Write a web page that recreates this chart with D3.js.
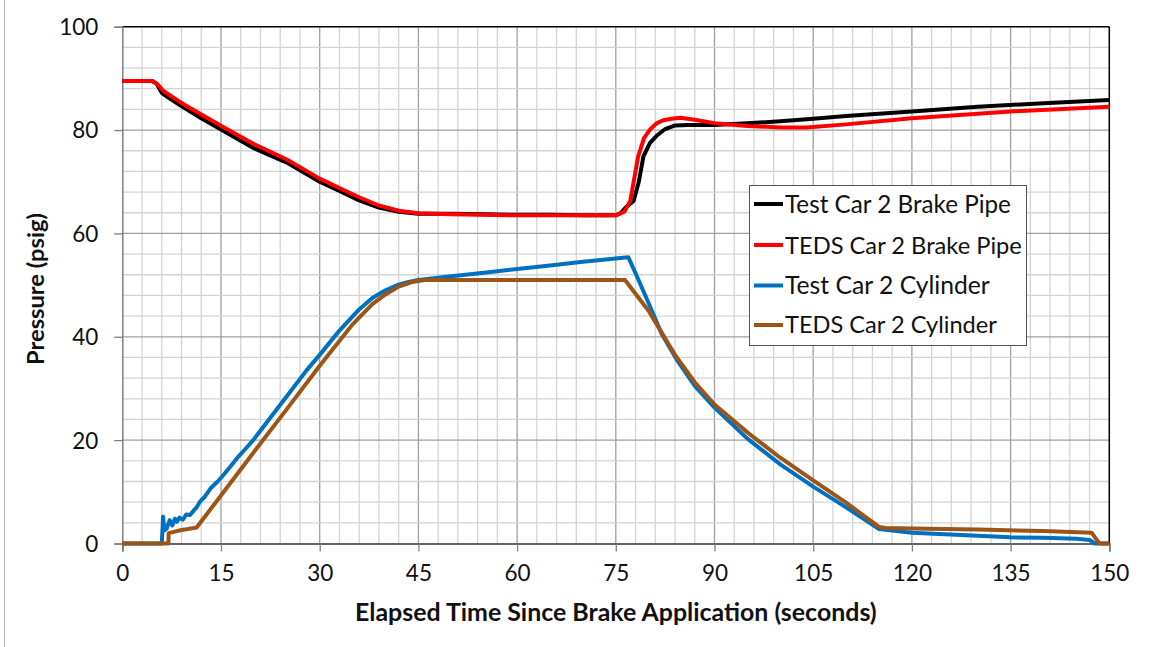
<!DOCTYPE html>
<html><head><meta charset="utf-8">
<script src="https://cdn.jsdelivr.net/npm/d3@7"></script>
<style>body{margin:0;background:#fff;font-family:Lato,"Open Sans",sans-serif;}</style>
</head><body><svg id="c" width="1151" height="647"></svg>
<script>
// ---- data ----
const seriesNames = ["Test Car 2 Brake Pipe","TEDS Car 2 Brake Pipe","Test Car 2 Cylinder","TEDS Car 2 Cylinder"];
const seriesColors = ["#000000","#ff0000","#0070c0","#9c5516"];
const xTicks = [0,15,30,45,60,75,90,105,120,135,150];
const yTicks = [0,20,40,60,80,100];

const testPipeT = [0,4.5,5.2,6,7,8.8,12,16,20,25,30,33,36,39,42,45,50,55,60,65,70,75,75.8,76.5,77.7,78.5,79.2,80.2,81.3,82.5,84,86,90,95,100,105,110,120,130,140,150];
const testPipeP = [89.5,89.5,89.0,87.2,86.3,84.8,82.3,79.4,76.5,73.7,70.0,68.2,66.4,65.0,64.2,63.8,63.8,63.7,63.6,63.6,63.5,63.5,64,65,66.3,70,74.9,77.5,79,80.2,80.9,81,81,81.3,81.7,82.2,82.7,83.6,84.5,85.2,85.8];

const tedsPipeT = [0,4.6,5.4,6.2,8.8,12,16,20,25,30,33,36,39,42,45,50,60,70,75,76.3,77.2,78.4,79.3,80.2,81.2,82.2,83.5,84.8,87,90,95,100,104,110,120,135,150];
const tedsPipeP = [89.5,89.5,88.8,87.6,85.4,83.0,80.1,77.3,74.3,70.6,68.8,67.0,65.4,64.4,63.9,63.7,63.5,63.5,63.5,64.2,66.3,74.9,78.5,80.1,81.3,81.9,82.2,82.4,82.0,81.3,80.8,80.5,80.5,81.1,82.3,83.6,84.5];

const testCylT = [0,6.0,6.2,6.4,6.75,7.2,7.6,8.0,8.3,8.7,9.2,9.7,10.3,10.8,11.3,11.8,12.5,13.5,14.5,15.4,16.5,17.5,18.5,19.9,22,25,28,30,33,36,38,40,42,43.5,45,50,55,60,65,70,76.9,78,80,82,84.3,87,90,95,100,105,110,115,117,120,125,130,135,140,145,147,147.8,150];
const testCylP = [0,0,5.2,2.5,2.9,4.5,3.5,4.8,4.2,5.0,4.6,5.6,5.5,6.3,7.0,8.1,9.0,10.8,12.0,13.3,15.0,16.6,18.0,20.0,23.5,28.5,33.5,36.5,41.2,45.3,47.5,49.0,50.1,50.6,51.0,51.7,52.4,53.1,53.8,54.5,55.4,52.3,46.5,40.5,35.5,30.5,26.3,20.3,15.3,11.0,7.0,2.8,2.5,2.1,1.8,1.5,1.2,1.1,0.9,0.7,0,0];

const tedsCylT = [0,7.0,7.05,8,9,10,11.3,15,20,25,30,35,38,40,42,44,46,47,60,76.4,80,84,87,90,95,100,105,110,115,116,120,130,140,147.3,148.5,150];
const tedsCylP = [0,0,2.0,2.3,2.6,2.8,3.1,9.3,17.7,26.0,34.4,42.4,46.3,48.2,49.7,50.6,51.0,51.0,51.0,51.0,45.0,36.5,31.2,26.9,21.5,16.6,12.2,7.9,3.2,3.0,2.9,2.7,2.4,2.1,0,0];

const seriesT = [testPipeT, tedsPipeT, testCylT, tedsCylT];
const seriesP = [testPipeP, tedsPipeP, testCylP, tedsCylP];

// ---- layout ----
const L = 122.3, R = 1109.3, T = 26.7, B = 543.5;
const svg = d3.select("#c");
const x = d3.scaleLinear().domain([0,150]).range([L,R]);
const y = d3.scaleLinear().domain([0,100]).range([B,T]);

// outer left border line
svg.append("line").attr("x1",4.5).attr("x2",4.5).attr("y1",0).attr("y2",647).attr("stroke","#b0b0b0").attr("stroke-width",1);

// grid
const g = svg.append("g");
d3.range(3,150,3).forEach(v=>{
  g.append("line").attr("x1",x(v)).attr("x2",x(v)).attr("y1",T).attr("y2",B)
   .attr("stroke", v%15===0 ? "#a0a0a0" : "#d4d4d4").attr("stroke-width",1.3);
});
d3.range(4,100,4).forEach(v=>{
  g.append("line").attr("x1",L).attr("x2",R).attr("y1",y(v)).attr("y2",y(v))
   .attr("stroke", v%20===0 ? "#a0a0a0" : "#d4d4d4").attr("stroke-width",1.3);
});

// plot border top/right
svg.append("line").attr("x1",L).attr("x2",R).attr("y1",T).attr("y2",T).attr("stroke","#000").attr("stroke-width",1.5);
svg.append("line").attr("x1",R).attr("x2",R).attr("y1",T).attr("y2",B).attr("stroke","#000").attr("stroke-width",1.5);

// axes
const xAxis = d3.axisBottom(x).tickValues(xTicks).tickSize(8).tickPadding(10).tickFormat(d3.format("d"));
const yAxis = d3.axisLeft(y).tickValues(yTicks).tickSize(8).tickPadding(16).tickFormat(d3.format("d"));
const gx = svg.append("g").attr("transform",`translate(0,${B})`).call(xAxis);
const gy = svg.append("g").attr("transform",`translate(${L},0)`).call(yAxis);
[gx,gy].forEach(a=>{
  a.select(".domain").attr("stroke","#808080").attr("stroke-width",1.5);
  a.selectAll(".tick line").attr("stroke","#808080").attr("stroke-width",1.3);
  a.selectAll(".tick text").attr("fill","#111").style("font-family","Lato, sans-serif").style("font-size","22.5px");
});
gx.select(".domain").attr("stroke","#333");
gx.selectAll(".tick text").attr("dy","0.85em");
gy.selectAll(".tick text").attr("dy","0.35em");

// lines
const line = d3.line().x(d=>x(d[0])).y(d=>y(d[1]));
seriesT.forEach((ts,i)=>{
  const pts = ts.map((t,k)=>[t, seriesP[i][k]]);
  svg.append("path").datum(pts).attr("d",line).attr("fill","none")
    .attr("stroke",seriesColors[i]).attr("stroke-width",4)
    .attr("stroke-linejoin","round").attr("stroke-linecap","butt");
});

// fit helper
function fit(sel, w){
  const len = sel.node().getComputedTextLength();
  const fs = parseFloat(sel.style("font-size"));
  sel.style("font-size", (fs*w/len)+"px");
}

// legend
const lg = svg.append("g");
lg.append("rect").attr("x",749.5).attr("y",185.5).attr("width",277).attr("height",160)
  .attr("fill","#fff").attr("stroke","#555").attr("stroke-width",1);
const rowsY = [204,245,285.5,325];
const legW = [226,237,205,212];
seriesNames.forEach((n,i)=>{
  lg.append("line").attr("x1",754).attr("x2",783).attr("y1",rowsY[i]).attr("y2",rowsY[i])
    .attr("stroke",seriesColors[i]).attr("stroke-width",4);
  const t = lg.append("text").attr("x",785).attr("y",rowsY[i]).attr("dy","0.36em")
    .style("font-family","Lato, sans-serif").style("font-size","24px").attr("fill","#111").text(n);
  fit(t, legW[i]);
});

// axis titles
const xt = svg.append("text").attr("x",(L+R)/2).attr("y",621).attr("text-anchor","middle")
  .style("font-family","Lato, sans-serif").style("font-weight","bold").style("font-size","21px").attr("fill","#111")
  .text("Elapsed Time Since Brake Application (seconds)");
fit(xt, 522);
const yt = svg.append("text").attr("transform","translate(44,289) rotate(-90)").attr("text-anchor","middle")
  .style("font-family","Lato, sans-serif").style("font-weight","bold").style("font-size","21px").attr("fill","#111")
  .text("Pressure (psig)");
fit(yt, 152);
</script></body></html>
